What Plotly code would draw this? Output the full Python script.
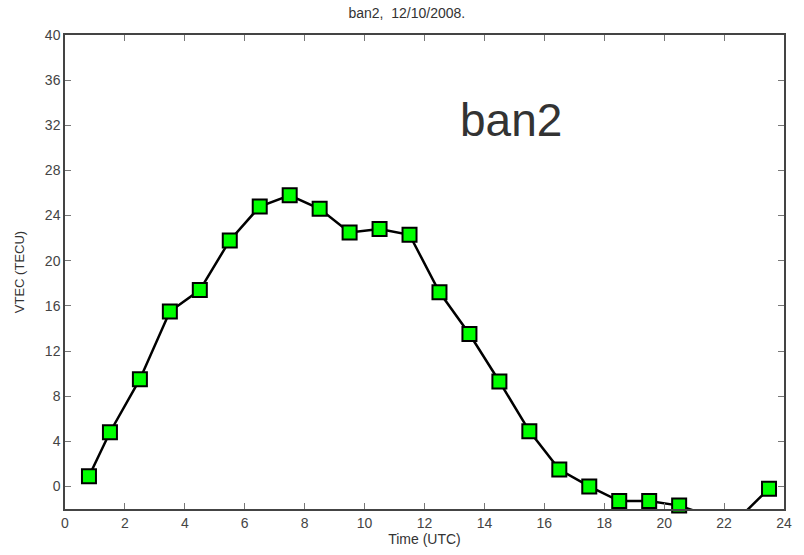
import plotly.graph_objects as go

hours = [0.8, 1.5, 2.5, 3.5, 4.5, 5.5, 6.5, 7.5, 8.5, 9.5, 10.5, 11.5,
         12.5, 13.5, 14.5, 15.5, 16.5, 17.5, 18.5, 19.5, 20.5, 21.5, 22.5, 23.5]
vtec = [0.9, 4.8, 9.5, 15.5, 17.4, 21.8, 24.8, 25.8, 24.6, 22.5, 22.8, 22.3,
        17.2, 13.5, 9.3, 4.9, 1.5, 0.0, -1.3, -1.3, -1.7, -2.6, -2.8, -0.2]
x_ticks = list(range(0, 25, 2))
y_ticks = list(range(0, 41, 4))
y_min, y_max = -2, 40

# markers only for points inside the axis range (like MATLAB), drawn unclipped
vis_y = [v if v >= y_min else None for v in vtec]

fig = go.Figure()
fig.add_trace(go.Scatter(x=hours, y=vtec, mode="lines",
                         line=dict(color="black", width=2.5),
                         showlegend=False, hoverinfo="skip"))
fig.add_trace(go.Scatter(x=hours, y=vis_y, mode="markers",
                         marker=dict(symbol="square", size=14, color="#00ff00",
                                     line=dict(color="black", width=2)),
                         cliponaxis=False, showlegend=False))

axis_common = dict(showgrid=False, zeroline=False, showline=True, mirror="ticks",
                   linecolor="#444", linewidth=1.5, ticks="inside", ticklen=6,
                   tickcolor="#777", tickwidth=1,
                   tickfont=dict(family="Liberation Sans, Arial", size=14, color="#444"))

fig.update_layout(
    width=804, height=555,
    margin=dict(l=65, r=13, t=35, b=46),
    paper_bgcolor="white", plot_bgcolor="white",
    title=dict(text="ban2,  12/10/2008.", x=0.506, xanchor="center", y=0.985, yanchor="top",
               font=dict(family="Liberation Sans, Arial", size=14, color="#333")),
    xaxis=dict(range=[0, 24], tickvals=x_ticks,
               title=dict(text="Time (UTC)", standoff=2,
                          font=dict(family="Liberation Sans, Arial", size=14, color="#333")),
               **axis_common),
    yaxis=dict(range=[y_min, y_max], tickvals=y_ticks,
               title=dict(text="VTEC (TECU)", standoff=17,
                          font=dict(family="Liberation Sans, Arial", size=13, color="#333")),
               **axis_common),
    annotations=[dict(text="ban2", x=0.621, y=0.82, xref="paper", yref="paper",
                      xanchor="center", yanchor="middle", showarrow=False,
                      font=dict(family="Liberation Sans, Arial", size=46, color="#333"))],
)

fig.write_html("out.html")
